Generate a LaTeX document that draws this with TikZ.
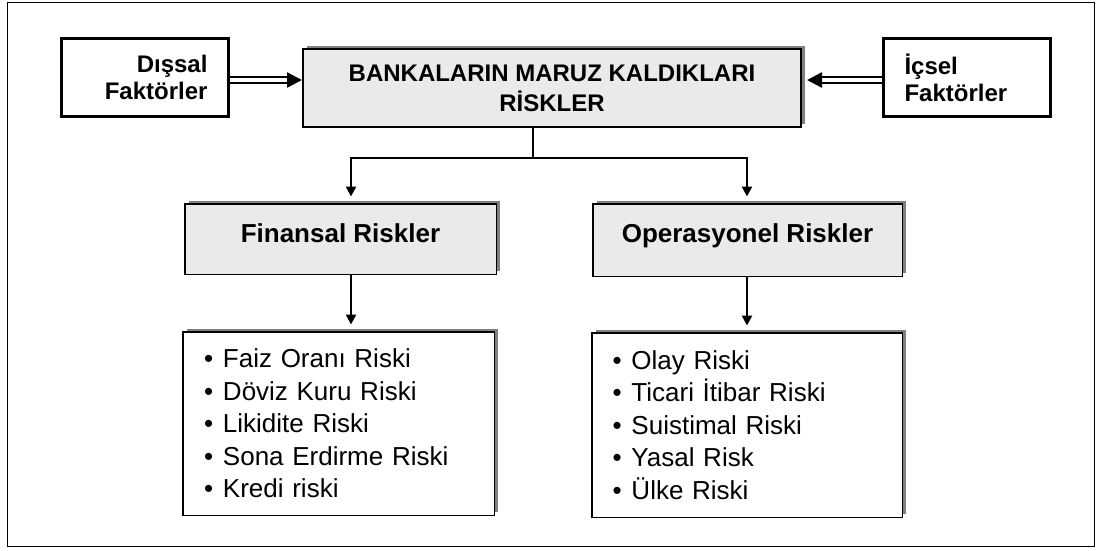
\documentclass[tikz,border=0pt]{standalone}
\usepackage{fontspec}
\setmainfont{Liberation Sans}
\usetikzlibrary{arrows.meta,shadows}

\definecolor{boxgray}{HTML}{EAEAEA}
\definecolor{shadowgray}{HTML}{808080}

\begin{document}
\begin{tikzpicture}[x=1pt,y=-1pt,
  frame/.style={draw=black, line width=1.5pt},
  factor/.style={draw=black, line width=3pt, minimum width=167pt, minimum height=78pt,
    inner xsep=21pt, inner ysep=0pt, text width=125pt,
    font=\bfseries\fontsize{24}{27}\selectfont},
  grayshadow/.style={drop shadow={shadow xshift=4pt, shadow yshift=3pt, fill=shadowgray, opacity=1}},
  mainbox/.style={draw=black, line width=2pt, fill=boxgray, grayshadow,
    minimum width=498pt, minimum height=78pt, align=center,
    font=\bfseries\fontsize{24}{30}\selectfont},
  riskbox/.style={draw=black, line width=1.5pt, fill=boxgray, grayshadow,
    inner ysep=0pt, font=\bfseries\fontsize{26}{30}\selectfont},
  listbox/.style={draw=black, line width=1.5pt, fill=white, grayshadow,
    inner ysep=0pt, align=left, font=\fontsize{26}{32.5}\selectfont},
  dbl/.style={double, double distance=3.5pt, line width=2.5pt,
    -{Triangle[length=15pt,width=15pt]}},
  tree/.style={line width=2.8pt, -{Triangle[length=10pt,width=10pt]}},
  treeline/.style={line width=2.8pt}
]
\useasboundingbox (0,0) rectangle (1101,550);

% outer frame
\draw[frame] (7.5,2.5) rectangle (1094.5,546.5);

% factor boxes and the central box
\node[factor, align=right] (dis) at (145,77.5) {Dışsal\\Faktörler};
\node[factor, align=left] (ics) at (967,77.5) {İçsel\\Faktörler};
\node[mainbox] (ctr) at (552,88) {BANKALARIN MARUZ KALDIKLARI\\RİSKLER};

% risk categories
\node[riskbox, minimum width=311.5pt, text height=38.5pt, text depth=32pt]
  (fin) at (340.5,239) {Finansal Riskler};
\node[riskbox, minimum width=309.5pt, text height=38.5pt, text depth=34pt]
  (oper) at (747.5,240) {Operasyonel Riskler};

% risk lists
\node[listbox, minimum width=311.5pt, minimum height=183.5pt, inner xsep=21.25pt, text width=269pt]
  (flist) at (338.5,423.5) {%
  \makebox[19pt][l]{•}Faiz Oranı Riski\\
  \makebox[19pt][l]{•}Döviz Kuru Riski\\
  \makebox[19pt][l]{•}Likidite Riski\\
  \makebox[19pt][l]{•}Sona Erdirme Riski\\
  \makebox[19pt][l]{•}Kredi riski};
\node[listbox, minimum width=310.5pt, minimum height=184.5pt, inner xsep=20.75pt, text width=269pt]
  (olist) at (747,425) {%
  \makebox[19pt][l]{•}Olay Riski\\
  \makebox[19pt][l]{•}Ticari İtibar Riski\\
  \makebox[19pt][l]{•}Suistimal Riski\\
  \makebox[19pt][l]{•}Yasal Risk\\
  \makebox[19pt][l]{•}Ülke Riski};

% factor arrows
\draw[dbl] ([yshift=-2.5pt]dis.east) -- ([yshift=-2.5pt]dis.east -| ctr.west);
\draw[dbl] ([yshift=-2.5pt]ics.west) -- ([yshift=-2.5pt,xshift=5pt]ics.west -| ctr.east);

% branching connector
\coordinate (hub) at (533,158);
\coordinate (lb) at (351,158);
\coordinate (rb) at (747,158);
\draw[treeline] (ctr.south -| hub) -- (hub);
\draw[tree] (hub) -- (lb) -- ([yshift=6.5pt]lb |- fin.north);
\draw[tree] (hub) -- (rb) -- ([yshift=6.5pt]rb |- oper.north);

% category to list
\draw[tree] (fin.south -| lb) -- ([yshift=6.5pt]lb |- flist.north);
\draw[tree] (oper.south -| rb) -- ([yshift=6.5pt]rb |- olist.north);
\end{tikzpicture}
\end{document}
